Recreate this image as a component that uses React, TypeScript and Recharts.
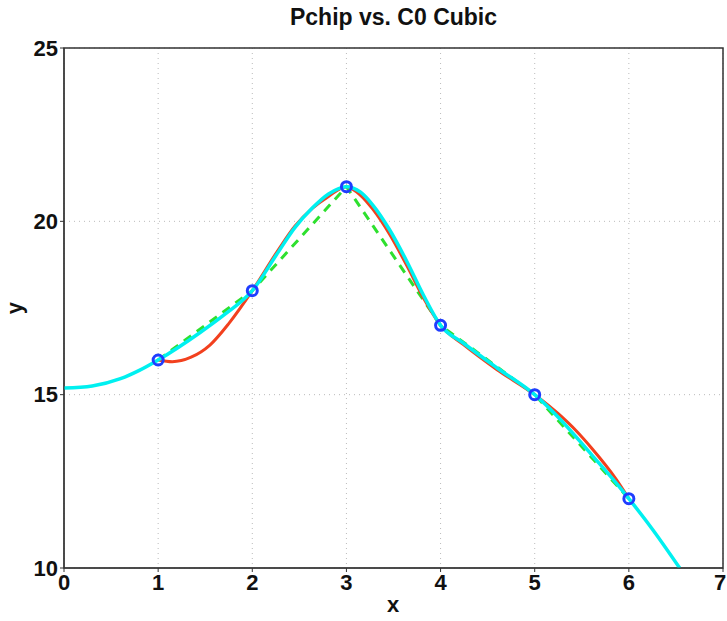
import {
  ComposedChart,
  Line,
  Scatter,
  XAxis,
  YAxis,
  CartesianGrid,
  ReferenceArea,
} from "recharts";

// sample points
const knotX = [1, 2, 3, 4, 5, 6];
const knotY = [16, 18, 21, 17, 15, 12];

// red curve
const redX = [1, 1.15, 1.35, 1.55, 1.75, 2, 2.27, 2.45, 2.64, 2.81, 3, 3.15, 3.28, 3.46, 3.65, 3.82, 4, 4.24, 4.6, 5, 5.25, 5.45, 5.61, 5.86, 6];
const redY = [16, 15.95, 16.08, 16.43, 17.05, 18, 19.15, 19.85, 20.38, 20.72, 21, 20.75, 20.35, 19.62, 18.68, 17.78, 17, 16.45, 15.72, 15, 14.45, 13.93, 13.44, 12.58, 12];

// cyan curve
const cyanX = [0, 0.3, 0.6, 0.8, 1, 1.45, 1.7, 2, 2.27, 2.45, 2.64, 2.81, 3, 3.15, 3.28, 3.46, 3.65, 3.82, 4, 4.24, 4.6, 5, 5.25, 5.61, 5.86, 6, 6.25, 6.54];
const cyanY = [15.19, 15.25, 15.46, 15.7, 16, 16.8, 17.3, 18, 19.09, 19.81, 20.39, 20.79, 21, 20.84, 20.47, 19.75, 18.8, 17.86, 17, 16.49, 15.77, 15, 14.35, 13.25, 12.47, 12, 11.12, 10];

const xTicks = [0, 1, 2, 3, 4, 5, 6, 7];
const yTicks = [10, 15, 20, 25];

const knots = knotX.map((x, i) => ({ x, y: knotY[i] }));
const red = redX.map((x, i) => ({ x, y: redY[i] }));
const cyan = cyanX.map((x, i) => ({ x, y: cyanY[i] }));

const font = "'Liberation Sans', Arial, sans-serif";
const tickStyle = { fontSize: 22, fontWeight: 700, fill: "#111", fontFamily: font };

const Marker = (props: any) => (
  <circle cx={props.cx} cy={props.cy} r={5} fill="none" stroke="#1f3dff" strokeWidth={3} />
);

// last x label sits on the right edge, keep it inside the page
const XTick = (props: any) => {
  const { x, y, payload } = props;
  const last = payload.value === xTicks[xTicks.length - 1];
  return (
    <text x={last ? x - 3 : x} y={y} dy="0.71em" textAnchor="middle" {...tickStyle}>
      {payload.value}
    </text>
  );
};

export default function App() {
  return (
    <div style={{ position: "absolute", left: 0, top: 0, width: 727, height: 621, background: "#fff", fontFamily: font }}>
      <div style={{ position: "absolute", left: 0, width: 787, top: 4, textAlign: "center", fontSize: 23, fontWeight: 700, color: "#111" }}>
        Pchip vs. C0 Cubic
      </div>
      <div style={{ position: "absolute", left: 387, top: 592, fontSize: 22, fontWeight: 700, color: "#111" }}>x</div>
      <div style={{ position: "absolute", left: 9, top: 295, fontSize: 22, fontWeight: 700, color: "#111", transform: "rotate(-90deg)" }}>y</div>
      <ComposedChart width={727} height={621} margin={{ top: 48, right: 4, left: 0, bottom: 0 }}>
        <CartesianGrid stroke="#bbb" strokeDasharray="1 4" />
        <XAxis
          dataKey="x"
          type="number"
          domain={[0, 7]}
          ticks={xTicks}
          interval={0}
          allowDataOverflow
          height={53}
          tick={<XTick />}
          stroke="#333"
          tickSize={4}
        />
        <YAxis
          type="number"
          domain={[10, 25]}
          ticks={yTicks}
          interval={0}
          allowDataOverflow
          width={64}
          tick={tickStyle}
          stroke="#333"
          tickSize={4}
        />
        <ReferenceArea x1={0} x2={7} y1={10} y2={25} fill="none" stroke="#333" strokeWidth={1.5} />
        <Line data={knots} dataKey="y" type="linear" stroke="#2ee02e" strokeWidth={3} strokeDasharray="9 7" dot={false} isAnimationActive={false} />
        <Line data={red} dataKey="y" type="monotone" stroke="#f2401e" strokeWidth={3} dot={false} isAnimationActive={false} />
        <Line data={cyan} dataKey="y" type="monotone" stroke="#00f0f0" strokeWidth={3.5} dot={false} isAnimationActive={false} />
        <Scatter data={knots} dataKey="y" shape={Marker} isAnimationActive={false} />
      </ComposedChart>
    </div>
  );
}
